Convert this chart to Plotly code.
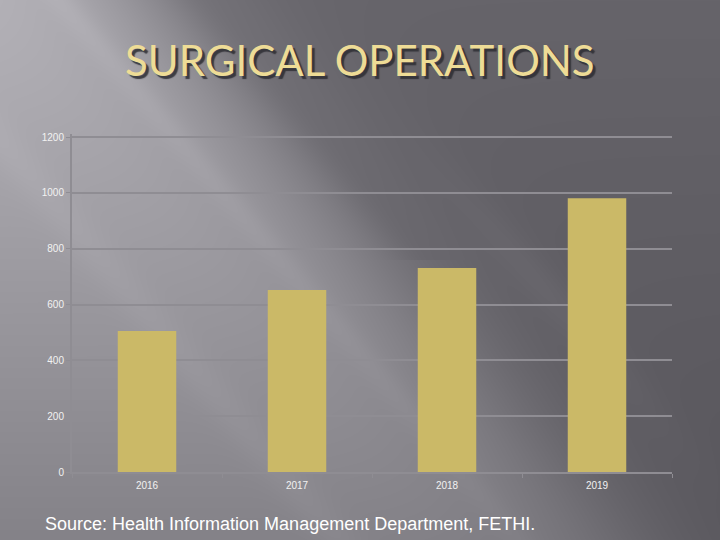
import base64, struct, zlib
import numpy as np
import plotly.graph_objects as go

# ---- data ----
years = ["2016", "2017", "2018", "2019"]
operations = [505, 652, 731, 981]
y_ticks = [0, 200, 400, 600, 800, 1000, 1200]
title_text = "SURGICAL OPERATIONS"
source_text = "Source: Health Information Management Department, FETHI."

W, H = 720, 540

# ---- background image (slide-like diagonal gradient) ----
def make_bg():
    yy, xx = np.mgrid[0:H, 0:W].astype(float)
    p = xx - 0.85 * yy
    floor = 100 - 14 * yy / H
    S = 1.0 / (1.0 + np.exp((p - 150) / 50))
    V = 1 - 0.45 * yy / H
    L = floor + 80 * S * V
    # subtle streaks
    L += 7 * np.exp(-((p - 60) / 18) ** 2) * (1 - yy / H * 0.5)
    L += 5 * np.exp(-((p + 120) / 25) ** 2)
    L -= 5 * np.exp(-((p - 200) / 30) ** 2) * (yy < 260)
    L += 6 * np.exp(-((p - 300) / 25) ** 2) * np.exp(-((yy - 300) / 120) ** 2)
    r = np.clip(L + 2, 0, 255)
    g = np.clip(L, 0, 255)
    b = np.clip(L + 6, 0, 255)
    img = np.stack([r, g, b], axis=-1).astype(np.uint8)
    raw = b"".join(b"\x00" + img[i].tobytes() for i in range(H))
    def chunk(tag, data):
        c = struct.pack(">I", len(data)) + tag + data
        return c + struct.pack(">I", zlib.crc32(tag + data) & 0xFFFFFFFF)
    png = b"\x89PNG\r\n\x1a\n"
    png += chunk(b"IHDR", struct.pack(">IIBBBBB", W, H, 8, 2, 0, 0, 0))
    png += chunk(b"IDAT", zlib.compress(raw, 9))
    png += chunk(b"IEND", b"")
    return "data:image/png;base64," + base64.b64encode(png).decode()

bg = make_bg()

fig = go.Figure()
fig.add_trace(go.Bar(
    x=years, y=operations, width=0.39,
    marker=dict(color="#CBB967", line=dict(width=0)),
    hoverinfo="x+y",
))

grid_col = "#8F8D93"
y_top = 1212
px_per_unit = (472 - 137) / 1200
top_px = 472 - y_top * px_per_unit
fig.update_layout(
    width=W, height=H,
    margin=dict(l=0, r=0, t=0, b=0),
    paper_bgcolor="#5a595f",
    plot_bgcolor="rgba(0,0,0,0)",
    showlegend=False,
    images=[dict(source=bg, xref="paper", yref="paper", x=0, y=1,
                 sizex=1, sizey=1, sizing="stretch", layer="below",
                 xanchor="left", yanchor="top")],
    xaxis=dict(
        domain=[72 / W, 672 / W], automargin=False,
        type="category", showgrid=False,
        showline=True, linecolor=grid_col, linewidth=2,
        ticks="outside", tickson="boundaries", ticklen=4, tickcolor=grid_col,
        ticklabelstandoff=3,
        tickfont=dict(family="Liberation Sans, Arial", size=10, color="#F2F2F2"),
    ),
    yaxis=dict(
        domain=[1 - 472 / H, 1 - top_px / H], automargin=False,
        range=[0, y_top], tickvals=y_ticks,
        showgrid=True, gridcolor=grid_col, gridwidth=2,
        showline=True, linecolor=grid_col, linewidth=2,
        ticks="outside", ticklen=4, tickcolor=grid_col,
        zeroline=False,
        tickfont=dict(family="Liberation Sans, Arial", size=10, color="#F2F2F2"),
    ),
)

# title with drop shadow
fig.add_annotation(
    text=title_text, xref="paper", yref="paper",
    x=0.5, y=1 - 60 / H,
    xanchor="center", yanchor="middle", showarrow=False,
    font=dict(family="Lato", size=42, color="#EEDC96",
              shadow="3px 3px 1px rgba(45,45,50,0.85)"),
)

fig.add_annotation(
    text=source_text, xref="paper", yref="paper",
    x=43 / W, y=1 - 524 / H, xanchor="left", yanchor="middle",
    showarrow=False,
    font=dict(family="Liberation Sans, Arial", size=18, color="#FFFFFF"),
)

fig.write_html("out.html", config={"displayModeBar": False},
               post_script="document.body.style.margin='0';document.body.style.overflow='hidden';")
